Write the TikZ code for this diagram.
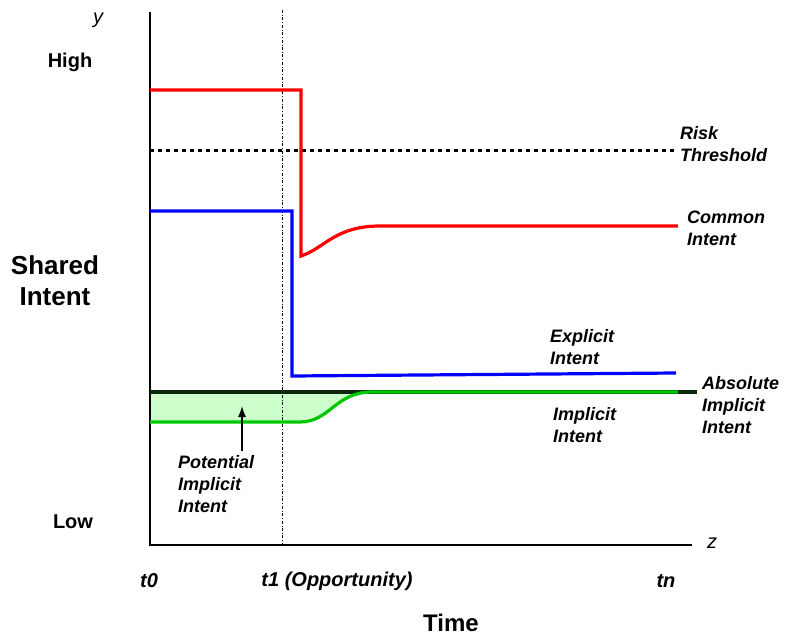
\documentclass[tikz,border=0pt]{standalone}
\usepackage{fontspec}
\setmainfont{Liberation Sans}
\usepackage{tikz}
\usetikzlibrary{arrows,arrows.meta,calc,positioning}
\definecolor{commonred}{RGB}{255,0,0}
\definecolor{explicitblue}{RGB}{0,0,255}
\definecolor{implicitgreen}{RGB}{0,200,0}
\definecolor{potentialfill}{RGB}{204,255,204}
\definecolor{absolutedark}{RGB}{12,40,12}
\tikzset{
  lbl/.style={font=\fontsize{18}{22}\selectfont\bfseries\itshape, align=left, anchor=west, inner sep=0pt},
  tick/.style={font=\fontsize{20}{24}\selectfont\bfseries, inner sep=0pt},
  big/.style={font=\fontsize{26}{31}\selectfont\bfseries, align=center, inner sep=0pt},
  curve/.style={line width=3.2pt}
}
\begin{document}
\begin{tikzpicture}[x=1pt,y=-1pt]
\useasboundingbox (0,0) rectangle (785,640);
% potential implicit intent area
\fill[potentialfill] (150,392) -- (150,422) -- (300,422) .. controls (330,422) and (335,392) .. (372,392) -- cycle;
% axes
\draw[line width=1.6pt] (150,12) -- (150,545) -- (692,545);
\node[font=\fontsize{20}{22}\selectfont\itshape] (ylab) at (98,20) {y};
\node[font=\fontsize{20}{22}\selectfont\itshape] (zlab) at (712,543) {z};
% opportunity marker
\draw[dash dot, thin] (282,10) -- (282,545);
% risk threshold
\draw[line width=3pt, dash pattern=on 4pt off 4pt] (150,150) -- (675,150);
% absolute implicit intent
\draw[line width=3.2pt, draw=absolutedark] (150,392) -- (697,392);
% common intent
\draw[curve, draw=commonred] (150,90) -- (301,90) -- (301,256) .. controls (325,248) and (335,226) .. (380,226) -- (678,226);
% explicit intent
\draw[curve, draw=explicitblue] (150,211) -- (292,211) -- (292,376) -- (676,373);
% implicit intent
\draw[curve, draw=implicitgreen] (150,422) -- (300,422) .. controls (330,422) and (335,392) .. (372,392) -- (678,392);

% labels
\node[tick] (high) at (70,62) {High};
\node[tick] (low) at (73,522) {Low};
\node[big] (shared) at (55,281) {Shared\\Intent};
\node[tick, font=\fontsize{20}{24}\selectfont\bfseries\itshape] (t0) at (149,581) {t0};
\node[tick, font=\fontsize{20}{24}\selectfont\bfseries\itshape] (t1) at (337,581) {t1 (Opportunity)};
\node[tick, font=\fontsize{20}{24}\selectfont\bfseries\itshape] (tn) at (666,581) {tn};
\node[big, font=\fontsize{24}{28}\selectfont\bfseries] (time) at (451,623) {Time};

\node[lbl] (risk) at (680,144) {Risk\\Threshold};
\node[lbl] (common) at (687,228) {Common\\Intent};
\node[lbl] (explicit) at (550,347) {Explicit\\Intent};
\node[lbl] (absolute) at (702,405) {Absolute\\Implicit\\Intent};
\node[lbl] (implicit) at (553,425) {Implicit\\Intent};
\node[lbl] (potential) at (178,484) {Potential\\Implicit\\Intent};

\coordinate (area) at (242,406);
\draw[-{Latex[length=11pt,width=8pt]}, line width=1.3pt] (potential.north -| area) ++(0,-4) -- (area);
\end{tikzpicture}
\end{document}
